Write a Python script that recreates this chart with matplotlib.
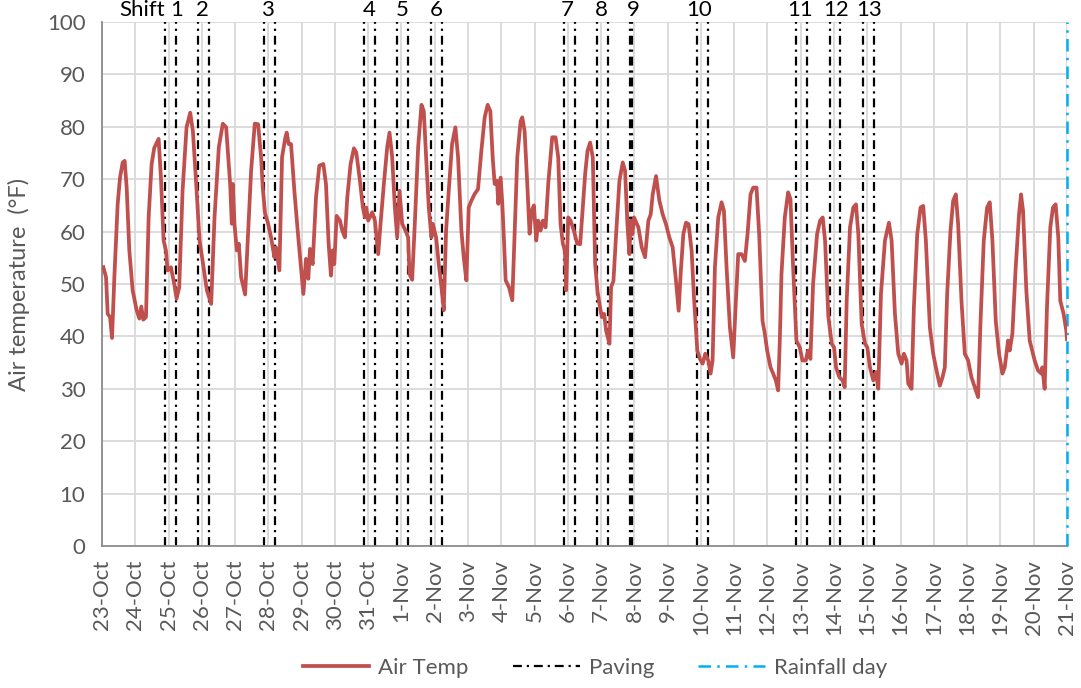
import matplotlib
matplotlib.use("Agg")
import matplotlib.pyplot as plt
from matplotlib.lines import Line2D

plt.rcParams['font.family'] = ['Lato', 'DejaVu Sans']

# ---- data ----
date_labels = ['23-Oct', '24-Oct', '25-Oct', '26-Oct', '27-Oct', '28-Oct', '29-Oct', '30-Oct', '31-Oct',
               '1-Nov', '2-Nov', '3-Nov', '4-Nov', '5-Nov', '6-Nov', '7-Nov', '8-Nov', '9-Nov', '10-Nov',
               '11-Nov', '12-Nov', '13-Nov', '14-Nov', '15-Nov', '16-Nov', '17-Nov', '18-Nov', '19-Nov',
               '20-Nov', '21-Nov']

# time in days since 23-Oct 00:00, air temperature in °F
time_days = [0.04, 0.12, 0.17, 0.24, 0.30, 0.37, 0.47, 0.54, 0.62, 0.68, 0.74, 0.82, 0.92, 1.04, 1.12, 1.18,
             1.24, 1.32, 1.40, 1.49, 1.57, 1.70, 1.77, 1.85, 1.92, 1.97, 2.07, 2.17, 2.24, 2.32, 2.42, 2.54,
             2.65, 2.73, 2.83, 2.93, 3.05, 3.15, 3.28, 3.38, 3.51, 3.63, 3.73, 3.85, 3.90, 3.93, 3.98, 4.05,
             4.11, 4.18, 4.30, 4.38, 4.48, 4.59, 4.69, 4.78, 4.83, 4.90, 4.98, 5.08, 5.18, 5.23, 5.33, 5.41,
             5.51, 5.55, 5.61, 5.68, 5.78, 5.88, 5.98, 6.05, 6.13, 6.20, 6.25, 6.33, 6.43, 6.53, 6.65, 6.73,
             6.81, 6.88, 6.93, 6.98, 7.05, 7.15,
             7.22, 7.30, 7.37, 7.47, 7.57, 7.64, 7.74, 7.84, 7.90, 7.94, 8.00, 8.12, 8.20, 8.30, 8.37, 8.47,
             8.57, 8.64, 8.72, 8.80, 8.87, 8.94, 9.02, 9.12, 9.20, 9.24, 9.32, 9.40, 9.50, 9.60, 9.67, 9.74,
             9.82, 9.90, 9.94, 10.04, 10.12, 10.20, 10.27, 10.34, 10.42, 10.52, 10.62, 10.70, 10.80, 10.87,
             10.95, 11.02, 11.10, 11.20, 11.30, 11.40, 11.50, 11.59, 11.67, 11.74, 11.80, 11.87, 11.91, 11.98,
             12.03, 12.08, 12.13, 12.23, 12.33, 12.41, 12.48, 12.58, 12.63, 12.70, 12.78, 12.85, 12.91, 12.98,
             13.05, 13.11, 13.18, 13.25, 13.33, 13.41, 13.53, 13.63, 13.71, 13.78, 13.85, 13.91, 13.95, 14.01,
             14.08, 14.18, 14.28,
             14.37, 14.52, 14.59, 14.67, 14.75, 14.82, 14.89, 14.95, 15.02, 15.09, 15.15, 15.25, 15.30, 15.37,
             15.45, 15.55, 15.65, 15.72, 15.79, 15.85, 15.89, 15.94, 15.99, 16.12, 16.22, 16.32, 16.42, 16.49,
             16.55, 16.65, 16.75, 16.85, 16.95, 17.05, 17.15, 17.25, 17.33, 17.39, 17.47, 17.55, 17.63, 17.72,
             17.79, 17.89, 17.97, 18.05, 18.13, 18.22, 18.29, 18.35, 18.42, 18.52, 18.62, 18.69, 18.77, 18.87,
             18.97, 19.05, 19.12, 19.22, 19.32, 19.40, 19.49, 19.57, 19.67, 19.75, 19.85, 19.92, 19.99, 20.09,
             20.17, 20.25, 20.32, 20.37, 20.42, 20.52, 20.62, 20.69, 20.77, 20.87, 20.97, 21.05, 21.15, 21.22,
             21.29, 21.37, 21.49,
             21.58, 21.66, 21.73, 21.83, 21.93, 22.00, 22.06, 22.16, 22.26, 22.32, 22.38, 22.48, 22.58, 22.66,
             22.73, 22.83, 22.93, 23.00, 23.08, 23.18, 23.26, 23.33, 23.41, 23.53, 23.65, 23.73, 23.83, 23.93,
             24.03, 24.10, 24.18, 24.23, 24.33, 24.40, 24.50, 24.60, 24.68, 24.76, 24.88, 24.98, 25.08, 25.18,
             25.26, 25.33, 25.40, 25.50, 25.58, 25.66, 25.73, 25.83, 25.93, 26.03, 26.13, 26.23, 26.33, 26.40,
             26.50, 26.60, 26.68, 26.76, 26.86, 26.96, 27.06, 27.13, 27.23, 27.28, 27.36, 27.46, 27.56, 27.62,
             27.68, 27.78, 27.88, 28.03, 28.13, 28.23, 28.26, 28.33, 28.40, 28.50, 28.58, 28.66, 28.74, 28.80,
             28.90, 28.98, 29.00]

air_temp = [53.2, 51.3, 44.3, 43.7, 39.7, 51.3, 65.3, 70.3, 73.2, 73.5, 68.4, 56.4, 48.8, 45.0, 43.4, 45.7,
            43.2, 43.7, 62.7, 72.9, 76.0, 77.7, 70.3, 58.3, 56.4, 52.6, 53.2, 50.0, 47.2, 49.4, 67.8, 79.9,
            82.7, 79.2, 69.1, 58.3, 53.2, 48.8, 46.2, 62.7, 76.1, 80.6, 79.9, 69.1, 61.5, 69.1, 61.5, 56.4,
            57.7, 51.3, 48.0, 58.3, 71.6, 80.6, 80.5, 74.2, 68.4, 63.4, 61.8, 58.9, 55.1, 57.0, 52.6, 74.2,
            78.0, 78.9, 76.7, 76.7, 67.8, 60.2, 53.2, 48.1, 54.8, 51.0, 56.7, 53.8, 66.5, 72.6, 72.9, 69.1,
            57.7, 51.6, 56.4, 53.8, 63.0, 62.1,
            60.2, 58.9, 66.5, 72.9, 75.9, 75.1, 70.3, 64.6, 62.7, 64.6, 62.1, 63.7, 62.1, 55.7, 61.5, 69.1,
            76.1, 78.9, 74.2, 64.6, 58.9, 67.8, 61.5, 60.2, 58.9, 51.9, 50.8, 61.5, 76.1, 84.2, 83.0, 74.2,
            64.6, 58.9, 61.5, 58.9, 53.8, 49.4, 45.0, 60.2, 67.8, 76.7, 79.9, 74.2, 60.2, 55.1,
            50.7, 64.6, 65.9, 67.2, 68.1, 75.4, 81.8, 84.2, 83.0, 74.2, 69.1, 69.7, 65.3, 70.3,
            65.3, 58.3, 50.7, 49.4, 46.9, 61.5, 74.2, 81.1, 81.8, 79.2, 69.1, 59.6, 64.0, 65.0,
            58.3, 62.1, 60.2, 62.1, 60.8, 69.1, 78.0, 78.0, 74.2, 61.5, 57.7, 56.4, 48.8, 62.7,
            62.1, 60.2, 57.7,
            57.6, 71.0, 75.4, 77.0, 74.1, 53.8, 48.7, 46.2, 43.7, 44.3, 41.1, 38.6, 49.4, 50.6,
            59.5, 69.7, 73.2, 71.6, 61.4, 55.7, 62.1, 59.5, 62.7, 60.8, 57.0, 55.1, 62.1, 63.3,
            67.1, 70.6, 65.9, 63.3, 61.4, 58.9, 57.0, 50.6, 44.9, 51.9, 59.5, 61.7, 61.4, 56.3,
            47.5, 37.3, 35.7, 34.8, 36.7, 35.4, 32.9, 35.4, 53.2, 62.7, 65.6, 64.0, 53.2, 41.7,
            36.0, 46.8, 55.7, 55.7, 54.4, 59.5, 67.1, 68.4, 68.4, 59.5, 43.0, 40.5, 37.3, 34.1,
            32.9, 31.6, 29.7, 39.2, 51.9, 62.7, 67.5, 66.2, 53.2, 39.2, 37.9, 35.4, 35.4, 37.3,
            35.7, 50.0, 59.5,
            62.1, 62.7, 58.3, 43.7, 38.6, 37.9, 34.1, 32.2, 31.6, 30.3, 46.8, 60.8, 64.6, 65.2,
            59.5, 42.4, 38.6, 37.9, 34.1, 31.6, 33.2, 30.0, 48.1, 58.3, 61.7, 58.3, 44.3, 36.7,
            34.8, 36.7, 35.4, 31.0, 30.0, 45.6, 59.5, 64.6, 64.9, 58.3, 41.7, 36.7, 33.5, 30.6,
            32.2, 34.1, 48.1, 60.2, 65.9, 67.1, 61.4, 46.8, 36.7, 35.4, 32.2, 30.3, 28.4, 42.4,
            58.3, 64.6, 65.6, 58.3, 43.0, 36.7, 32.9, 34.1, 39.2, 37.3, 40.5, 53.2, 63.3, 67.1,
            64.0, 48.7, 39.2, 35.4, 33.5, 32.9, 34.1, 30.0, 45.6, 60.8, 64.6, 65.2, 58.9, 46.8,
            44.3, 41.1, 39.5]

# paving shifts: start / end of each night shift (days since 23-Oct)
paving_start = [1.88, 2.87, 4.86, 7.88, 8.86, 9.88, 13.89, 14.88, 15.87, 17.89, 20.87, 21.87, 22.88]
paving_end = [2.22, 3.21, 5.21, 8.20, 9.19, 10.21, 14.22, 15.22, 15.94, 18.22, 21.20, 22.19, 23.21]
shift_labels = ['1', '2', '3', '4', '5', '6', '7', '8', '9', '10', '11', '12', '13']
shift_label_x = [2.25, 3.03, 4.98, 8.02, 9.01, 10.04, 13.98, 15.0, 15.96, 17.95, 20.98, 22.07, 23.04]

rainfall_days = [29.0]

# ---- figure ----
fig = plt.figure(figsize=(10.81, 6.88), dpi=100)
ax = fig.add_axes([0.0944, 0.2064, 0.8926, 0.7616])

FS = 16
grid_c = '#D9D9D9'
txt_c = '#595959'
ax.set_xlim(0, 29)
ax.set_ylim(0, 100)
ax.set_xticks(range(len(date_labels)))
ax.set_xticklabels(date_labels, rotation=90, fontsize=FS, color=txt_c)
ax.set_yticks(range(0, 101, 10))
ax.set_yticklabels([str(v) for v in range(0, 101, 10)], fontsize=FS, color=txt_c)
ax.tick_params(axis='both', length=0)
ax.tick_params(axis='x', pad=10)
ax.tick_params(axis='y', pad=12)
ax.grid(True, color=grid_c, linewidth=1.3)
ax.set_axisbelow(True)
for s in ['top', 'right']:
    ax.spines[s].set_visible(False)
for s in ['left', 'bottom']:
    ax.spines[s].set_color('#8C8C8C')
    ax.spines[s].set_linewidth(1.3)
ax.set_ylabel('Air temperature  (°F)', fontsize=17, color=txt_c, labelpad=12)

paving_style = dict(color='black', linewidth=1.6, linestyle=(0, (4, 2.2, 1, 2.2)))
for xs, xe in zip(paving_start, paving_end):
    ax.axvline(xs, **paving_style, zorder=2)
    ax.axvline(xe, **paving_style, zorder=2)

rain_style = dict(color='#00B0F0', linewidth=1.8, linestyle=(0, (5, 2.5, 1, 2.5)))
for xr in rainfall_days:
    ax.axvline(xr, **rain_style, zorder=3, clip_on=False)

ax.plot(time_days, air_temp, color='#C0504D', linewidth=2.7, zorder=4, solid_joinstyle='round')

for lab, xl in zip(shift_labels, shift_label_x):
    ax.text(xl, 100.3, lab, ha='center', va='bottom', fontsize=FS, color='black', clip_on=False)
ax.text(1.21, 100.3, 'Shift', ha='center', va='bottom', fontsize=FS, color='black', clip_on=False)

handles = [Line2D([], [], color='#C0504D', linewidth=2.7),
           Line2D([], [], **paving_style),
           Line2D([], [], **rain_style)]
fig.legend(handles, ['Air Temp', 'Paving', 'Rainfall day'], loc='center',
           bbox_to_anchor=(595 / 1081, 1 - 668 / 688), ncol=3, frameon=False,
           fontsize=FS, handlelength=3.0, columnspacing=2.0, handletextpad=0.4,
           labelcolor=txt_c)

fig.savefig('out.png', dpi=100)
